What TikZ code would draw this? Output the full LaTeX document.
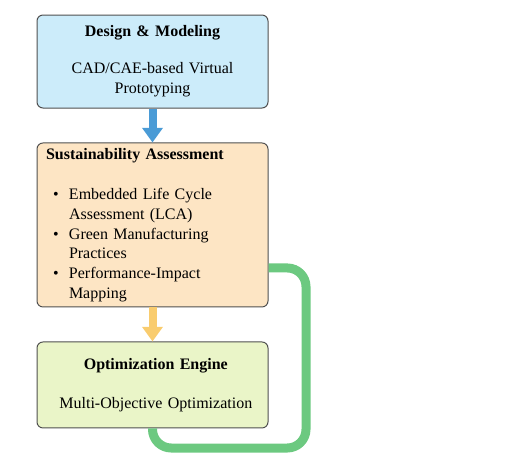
\documentclass[tikz,border=0pt]{standalone}
\usepackage{fontspec}
\setmainfont{Liberation Serif}
\usepackage{tikz}
\usetikzlibrary{shapes,arrows,arrows.meta,calc,positioning}
\definecolor{designblue}{RGB}{204,236,250}
\definecolor{sustpeach}{RGB}{253,229,196}
\definecolor{optgreen}{RGB}{234,245,200}
\definecolor{boxgray}{RGB}{80,80,80}
\definecolor{arrowblue}{RGB}{74,155,214}
\definecolor{arroworange}{RGB}{249,204,110}
\definecolor{loopgreen}{RGB}{108,201,128}
\tikzstyle{box} = [rectangle, draw=boxgray, line width=0.75pt, rounded corners=4.5pt, text width=159.75pt, inner xsep=6.75pt, inner ysep=0pt, font=\fontsize{12}{14.8}\selectfont]
\tikzstyle{flow} = [line width=6pt, -{Triangle[width=15pt,length=11pt]}]
\tikzstyle{feedback} = [draw=loopgreen, line width=6.75pt, rounded corners=14pt]
\newcommand{\bpoint}[1]{\makebox[17.25pt][l]{\hspace{5.25pt}\textbullet}#1}
\newcommand{\bcont}[1]{\hspace*{17.25pt}#1}
\begin{document}
\begin{tikzpicture}[x=0.75pt, y=-0.75pt]
	\useasboundingbox (0,0) rectangle (512,462);
	
	\node [box, fill=designblue, align=center, minimum height=69.75pt] (design) at (152.5,61.5)
	{\textbf{Design \& Modeling}\\[13pt] CAD/CAE-based Virtual\\ Prototyping};
	\node [box, fill=sustpeach, align=left, minimum height=123pt, below of=design, node distance=122.6pt] (sust)
	{\textbf{Sustainability Assessment}\\[15.5pt]
	\bpoint{Embedded Life Cycle}\\ \bcont{Assessment (LCA)}\\
	\bpoint{Green Manufacturing}\\ \bcont{Practices}\\
	\bpoint{Performance-Impact}\\ \bcont{Mapping}};
	\node [box, fill=optgreen, align=center, minimum height=64.5pt, below of=sust, node distance=120pt] (opt)
	{\hspace*{5pt}\textbf{Optimization Engine}\\[14.5pt] \hspace*{5pt}Multi-Objective Optimization};
	
	\path [flow, draw=arrowblue, fill=arrowblue] (design.south) -- (sust.north);
	\path [flow, draw=arroworange, fill=arroworange] (sust.south) -- (opt.north);
	
	\coordinate (turn) at (306,448);
	\draw [feedback] ([yshift=-32.25pt]sust.east) -| (turn) -| (opt.south);
	
\end{tikzpicture}
\end{document}
